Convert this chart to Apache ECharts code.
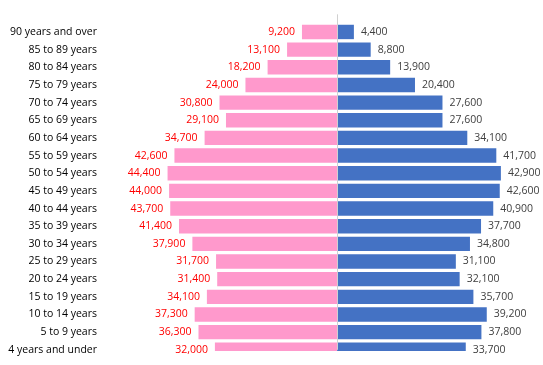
<!DOCTYPE html>
<html>
<head>
<meta charset="utf-8">
<script src="https://cdn.jsdelivr.net/npm/echarts@6/dist/echarts.min.js"></script>
<style>
  html, body { margin: 0; padding: 0; background: #fff; }
  #chart { width: 543px; height: 365px; }
</style>
</head>
<body>
<div id="chart"></div>
<script>
const categories = [
  '90 years and over', '85 to 89 years', '80 to 84 years', '75 to 79 years',
  '70 to 74 years', '65 to 69 years', '60 to 64 years', '55 to 59 years',
  '50 to 54 years', '45 to 49 years', '40 to 44 years', '35 to 39 years',
  '30 to 34 years', '25 to 29 years', '20 to 24 years', '15 to 19 years',
  '10 to 14 years', '5 to 9 years', '4 years and under'
];
const pinkValues = [9200, 13100, 18200, 24000, 30800, 29100, 34700, 42600, 44400, 44000,
  43700, 41400, 37900, 31700, 31400, 34100, 37300, 36300, 32000];
const blueValues = [4400, 8800, 13900, 20400, 27600, 27600, 34100, 41700, 42900, 42600,
  40900, 37700, 34800, 31100, 32100, 35700, 39200, 37800, 33700];

const FONT = 'Open Sans';
const fmt = v => Math.abs(v).toLocaleString('en-US');

// leading blank slot keeps the top margin above the first bar
const yData = [''].concat(categories);
const pinkData = ['-'].concat(pinkValues.map(v => -v));
const blueData = ['-'].concat(blueValues);

const chart = echarts.init(document.getElementById('chart'), null, { renderer: 'canvas' });
chart.setOption({
  animation: false,
  backgroundColor: '#ffffff',
  textStyle: { fontFamily: FONT },
  grid: { left: 108, top: 14.3, width: 420, height: 335.5, containLabel: false },
  xAxis: {
    type: 'value', min: -60000, max: 50000,
    show: false, splitLine: { show: false }
  },
  yAxis: {
    type: 'category', inverse: true, boundaryGap: false, data: yData,
    axisLine: { show: false }, axisTick: { show: false }, splitLine: { show: false },
    axisLabel: { color: '#000000', fontSize: 10.5, fontFamily: FONT, margin: 11, interval: 0 }
  },
  series: [
    {
      type: 'bar', name: 'left', data: pinkData, barWidth: 14.4, barGap: '-100%',
      itemStyle: { color: '#ff99cc' },
      label: {
        show: true, position: 'left', distance: 7, color: '#ff0000',
        fontSize: 10.5, fontFamily: FONT, formatter: p => fmt(p.value)
      }
    },
    {
      type: 'bar', name: 'right', data: blueData, barWidth: 14.4, barGap: '-100%',
      itemStyle: { color: '#4472c4' },
      label: {
        show: true, position: 'right', distance: 7, color: '#404040',
        fontSize: 10.5, fontFamily: FONT, formatter: p => fmt(p.value)
      },
      markLine: {
        silent: true, symbol: 'none', animation: false,
        label: { show: false },
        lineStyle: { color: '#d0d0d0', type: 'solid', width: 1 },
        data: [{ xAxis: 0 }]
      }
    }
  ]
});

// The plot area of the original cuts off the lower part of the last row's bars:
// mask the bar region below the plot edge (positions derived from the axes).
const lastIdx = yData.length - 1;
const pL = chart.convertToPixel({ seriesIndex: 0 }, [pinkData[lastIdx], lastIdx]);
const pR = chart.convertToPixel({ seriesIndex: 1 }, [blueData[lastIdx], lastIdx]);
const maskTop = pL[1] + 1.2;
chart.setOption({
  graphic: [{
    type: 'rect', silent: true, z: 50,
    shape: { x: pL[0] - 1, y: maskTop, width: pR[0] - pL[0] + 2, height: 20 },
    style: { fill: '#ffffff' }
  }]
});
</script>
</body>
</html>
